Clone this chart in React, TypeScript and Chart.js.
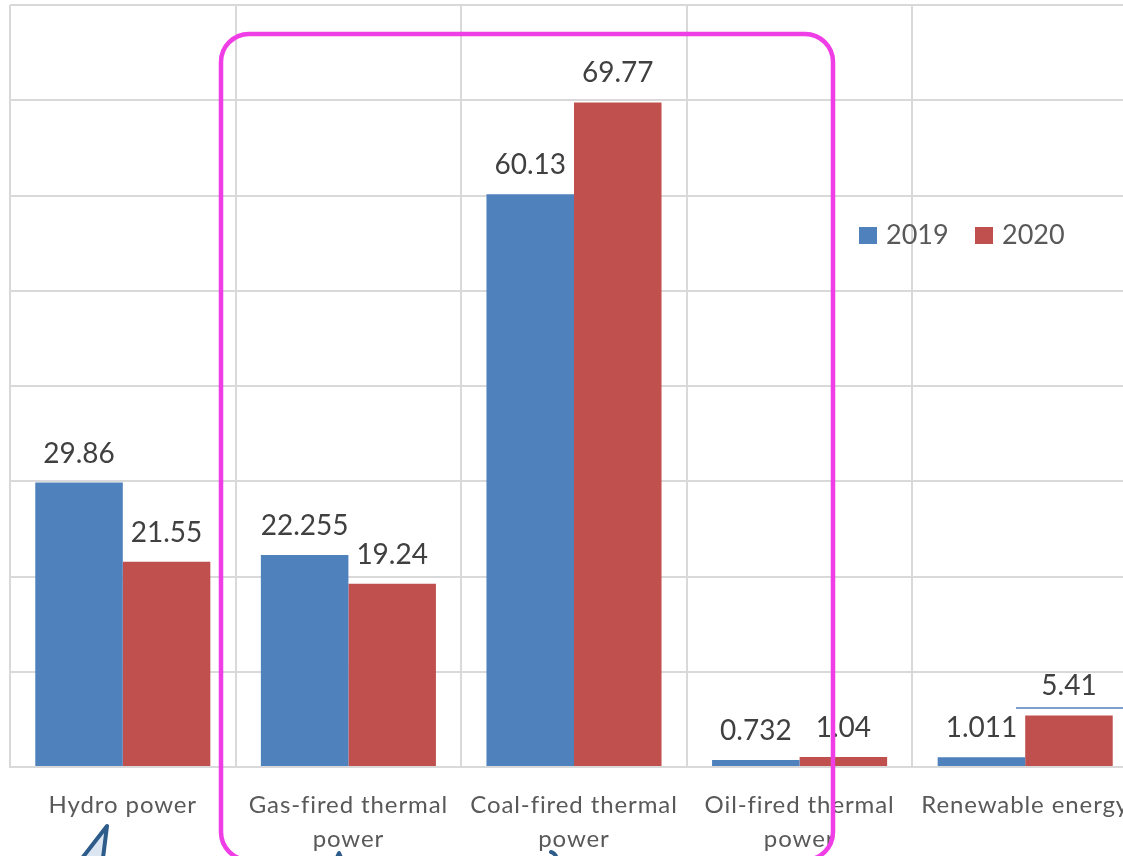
import React, { useEffect, useRef } from "react";
import { Chart, registerables } from "chart.js";

Chart.register(...registerables);

const categories: string[][] = [
  ["Hydro power"],
  ["Gas-fired thermal", "power"],
  ["Coal-fired thermal", "power"],
  ["Oil-fired thermal", "power"],
  ["Renewable energy"],
];
const seriesNames = ["2019", "2020"];
const values2019 = [29.86, 22.255, 60.13, 0.732, 1.011];
const values2020 = [21.55, 19.24, 69.77, 1.04, 5.41];
const labels2019 = ["29.86", "22.255", "60.13", "0.732", "1.011"];
const labels2020 = ["21.55", "19.24", "69.77", "1.04", "5.41"];

const BLUE = "#4F81BD";
const RED = "#C0504D";
const GRID = "#D9D9D9";
const FONT = "Lato, 'Noto Sans', sans-serif";

const overlayPlugin = {
  id: "overlay",
  afterDatasetsDraw(chart: any) {
    const ctx = chart.ctx;
    const lbls = [labels2019, labels2020];
    ctx.save();
    ctx.font = `28px ${FONT}`;
    ctx.fillStyle = "#404040";
    ctx.textAlign = "center";
    ctx.textBaseline = "alphabetic";
    chart.data.datasets.forEach((ds: any, di: number) => {
      const meta = chart.getDatasetMeta(di);
      meta.data.forEach((bar: any, i: number) => {
        ctx.fillText(lbls[di][i], bar.x, bar.y - 20);
      });
    });
    ctx.restore();
  },
  afterDraw(chart: any) {
    const ctx = chart.ctx;
    const xs = chart.scales.x;
    ctx.save();
    // x labels
    ctx.font = `24px ${FONT}`;
    (ctx as any).letterSpacing = "0.9px";
    ctx.fillStyle = "#595959";
    ctx.textAlign = "center";
    ctx.textBaseline = "alphabetic";
    categories.forEach((lines, i) => {
      const cx = xs.getPixelForValue(i);
      lines.forEach((t, li) => {
        ctx.fillText(t, cx, 813 + li * 34);
      });
    });
    (ctx as any).letterSpacing = "0px";

    // legend
    const items = [
      { c: BLUE, t: seriesNames[0], x: 859 },
      { c: RED, t: seriesNames[1], x: 975 },
    ];
    ctx.font = `27px ${FONT}`;
    ctx.textAlign = "left";
    items.forEach((it) => {
      ctx.fillStyle = it.c;
      ctx.fillRect(it.x, 227, 18, 17);
      ctx.fillStyle = "#595959";
      ctx.fillText(it.t, it.x + 27, 244);
    });

    // stray blue line above 5.41
    ctx.strokeStyle = BLUE;
    ctx.lineWidth = 1.5;
    ctx.beginPath();
    ctx.moveTo(1016, 708);
    ctx.lineTo(1130, 708);
    ctx.stroke();

    // magenta rounded rectangle
    ctx.strokeStyle = "#F03EE6";
    ctx.lineWidth = 4.5;
    ctx.beginPath();
    (ctx as any).roundRect(221, 34, 612, 826, 28);
    ctx.stroke();

    // arrows at bottom
    ctx.lineJoin = "round";
    ctx.lineCap = "round";
    ctx.strokeStyle = "#2E5C8A";
    ctx.fillStyle = "#DCE6F2";
    ctx.lineWidth = 4;
    ctx.beginPath();
    ctx.moveTo(107, 826);
    ctx.lineTo(76, 866);
    ctx.lineTo(102, 866);
    ctx.closePath();
    ctx.fill();
    ctx.stroke();

    ctx.beginPath();
    ctx.moveTo(339, 853);
    ctx.lineTo(335, 862);
    ctx.lineTo(343, 862);
    ctx.closePath();
    ctx.fill();
    ctx.stroke();

    ctx.beginPath();
    ctx.moveTo(551, 852);
    ctx.quadraticCurveTo(556, 853, 558, 862);
    ctx.stroke();
    ctx.restore();
  },
};

export default function App() {
  const ref = useRef<HTMLCanvasElement>(null);
  useEffect(() => {
    if (!ref.current) return;
    const chart = new Chart(ref.current, {
      type: "bar",
      data: {
        labels: categories.map((c) => c.join(" ")),
        datasets: [
          { label: seriesNames[0], data: values2019, backgroundColor: BLUE, borderWidth: 0 },
          { label: seriesNames[1], data: values2020, backgroundColor: RED, borderWidth: 0 },
        ],
      },
      options: {
        responsive: false,
        animation: false,
        devicePixelRatio: 1,
        layout: { padding: { left: 10, right: 12, top: 5, bottom: 0 } },
        datasets: { bar: { categoryPercentage: 0.776, barPercentage: 1.0 } },
        plugins: { legend: { display: false }, tooltip: { enabled: false } },
        scales: {
          x: {
            grid: { color: GRID, lineWidth: 2, drawTicks: false, offset: true },
            border: { color: GRID, width: 2 },
            ticks: { display: false },
            afterFit: (s: any) => {
              s.height = 89;
            },
          },
          y: {
            min: 0,
            max: 80,
            ticks: { display: false, stepSize: 10 },
            grid: { color: GRID, lineWidth: 2, drawTicks: false },
            border: { display: false },
            afterFit: (s: any) => {
              s.width = 0;
            },
          },
        },
      },
      plugins: [overlayPlugin],
    });
    return () => chart.destroy();
  }, []);
  return (
    <div
      style={{
        position: "fixed",
        left: 0,
        top: 0,
        width: 1123,
        height: 856,
        overflow: "hidden",
        background: "#fff",
      }}
    >
      <canvas ref={ref} width={1150} height={856} style={{ width: 1150, height: 856, display: "block" }} />
    </div>
  );
}
